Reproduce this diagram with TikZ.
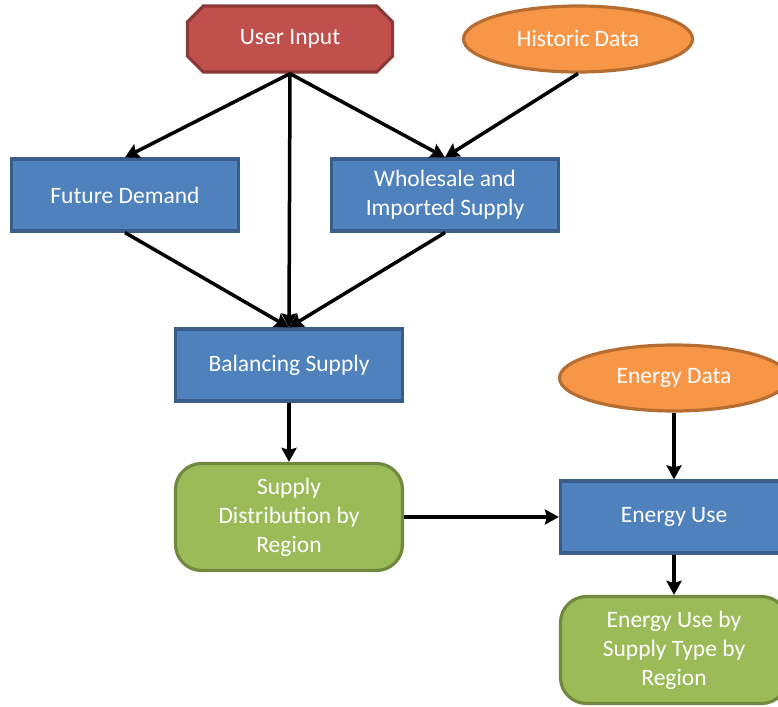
\documentclass[tikz,border=0pt]{standalone}
\usepackage{fontspec}
\setmainfont{Carlito}
\usetikzlibrary{positioning,shapes.geometric,shapes.misc,arrows.meta}
\definecolor{inred}{HTML}{C0504D}
\definecolor{inredline}{HTML}{8C3836}
\definecolor{dataorange}{HTML}{F79646}
\definecolor{dataline}{HTML}{B66D31}
\definecolor{procblue}{HTML}{4F81BD}
\definecolor{procline}{HTML}{385D8A}
\definecolor{outgreen}{HTML}{9BBB59}
\definecolor{outline}{HTML}{71893F}
\tikzset{
  every node/.style={text=white,font=\fontsize{23.5}{29}\selectfont,align=center,line width=3.2pt},
  inputbox/.style={chamfered rectangle,chamfered rectangle xsep=17pt,fill=inred,draw=inredline,minimum width=205pt,minimum height=66pt},
  datanode/.style={ellipse,fill=dataorange,draw=dataline,minimum width=229pt,minimum height=66pt},
  procbox/.style={rectangle,fill=procblue,draw=procline,minimum width=227pt,minimum height=72pt},
  outbox/.style={rectangle,rounded corners=26pt,fill=outgreen,draw=outline,minimum width=227pt,minimum height=107pt},
  flow/.style={line width=3.5pt,black,-{Stealth[length=14pt,width=15pt,inset=2pt]}}
}
\begin{document}
\begin{tikzpicture}[x=1pt,y=-1pt]
  \useasboundingbox (0,0) rectangle (778,706);
  \node[inputbox] (user) at (290,39) {User Input};
  \node[datanode] (hist) at (578,39) {Historic Data};
  \node[procbox] (future) at (125,195) {Future Demand};
  \node[procbox] (whole) at (445,195) {Wholesale and\\Imported Supply};
  \node[procbox] (bal) at (289,365) {Balancing Supply};
  \node[outbox] (dist) at (289,517) {Supply\\Distribution by\\Region};
  \node[datanode] (edata) at (674,378) {Energy Data};
  \node[procbox] (use) at (674,517) {Energy Use};
  \node[outbox] (useby) at (674,650) {Energy Use by\\Supply Type by\\Region};
  \draw[flow] (user.south) -- (future.north);
  \draw[flow] (user.south) -- (bal.north);
  \draw[flow] (user.south) -- (whole.north);
  \draw[flow] (hist.south) -- (whole.north);
  \draw[flow] (future.south) -- (bal.north);
  \draw[flow] (whole.south) -- (bal.north);
  \draw[flow] (bal) -- (dist);
  \draw[flow] (dist) -- (use);
  \draw[flow] (edata) -- (use);
  \draw[flow] (use) -- (useby);
\end{tikzpicture}
\end{document}
